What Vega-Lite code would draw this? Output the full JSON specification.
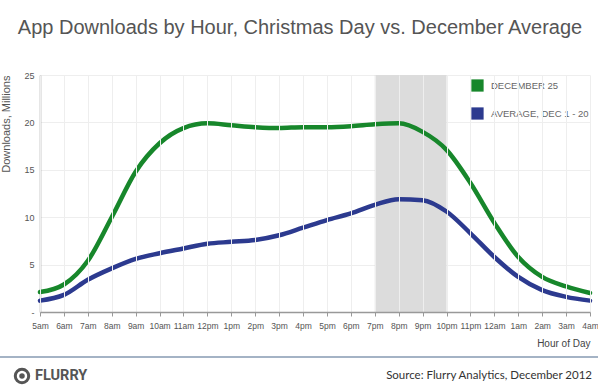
{
  "$schema": "https://vega.github.io/schema/vega-lite/v6.json",
  "width": 550,
  "height": 237,
  "autosize": {"type": "none"},
  "padding": {"left": 40, "top": 75, "right": 8, "bottom": 78},
  "background": "white",
  "title": {
    "text": "App Downloads by Hour, Christmas Day vs. December Average",
    "font": "Liberation Sans",
    "fontSize": 20,
    "fontWeight": "normal",
    "color": "#555555",
    "anchor": "middle",
    "dx": -15,
    "offset": 33
  },
  "config": {
    "view": {"stroke": null},
    "font": "Liberation Sans"
  },
  "datasets": {
    "series": [
      {"time": "5am", "series": "DECEMBER 25", "value": 2.1},
      {"time": "6am", "series": "DECEMBER 25", "value": 2.9},
      {"time": "7am", "series": "DECEMBER 25", "value": 5.4},
      {"time": "8am", "series": "DECEMBER 25", "value": 10.0},
      {"time": "9am", "series": "DECEMBER 25", "value": 14.8},
      {"time": "10am", "series": "DECEMBER 25", "value": 17.8},
      {"time": "11am", "series": "DECEMBER 25", "value": 19.4},
      {"time": "12pm", "series": "DECEMBER 25", "value": 19.9},
      {"time": "1pm", "series": "DECEMBER 25", "value": 19.7},
      {"time": "2pm", "series": "DECEMBER 25", "value": 19.5},
      {"time": "3pm", "series": "DECEMBER 25", "value": 19.4},
      {"time": "4pm", "series": "DECEMBER 25", "value": 19.5},
      {"time": "5pm", "series": "DECEMBER 25", "value": 19.5},
      {"time": "6pm", "series": "DECEMBER 25", "value": 19.6},
      {"time": "7pm", "series": "DECEMBER 25", "value": 19.8},
      {"time": "8pm", "series": "DECEMBER 25", "value": 19.9},
      {"time": "9pm", "series": "DECEMBER 25", "value": 19.0},
      {"time": "10pm", "series": "DECEMBER 25", "value": 17.1},
      {"time": "11pm", "series": "DECEMBER 25", "value": 13.6},
      {"time": "12am", "series": "DECEMBER 25", "value": 9.4},
      {"time": "1am", "series": "DECEMBER 25", "value": 5.8},
      {"time": "2am", "series": "DECEMBER 25", "value": 3.7},
      {"time": "3am", "series": "DECEMBER 25", "value": 2.7},
      {"time": "4am", "series": "DECEMBER 25", "value": 2.0},
      {"time": "5am", "series": "AVERAGE, DEC 1 - 20", "value": 1.2},
      {"time": "6am", "series": "AVERAGE, DEC 1 - 20", "value": 1.8},
      {"time": "7am", "series": "AVERAGE, DEC 1 - 20", "value": 3.4},
      {"time": "8am", "series": "AVERAGE, DEC 1 - 20", "value": 4.6},
      {"time": "9am", "series": "AVERAGE, DEC 1 - 20", "value": 5.6},
      {"time": "10am", "series": "AVERAGE, DEC 1 - 20", "value": 6.2},
      {"time": "11am", "series": "AVERAGE, DEC 1 - 20", "value": 6.7},
      {"time": "12pm", "series": "AVERAGE, DEC 1 - 20", "value": 7.2},
      {"time": "1pm", "series": "AVERAGE, DEC 1 - 20", "value": 7.4},
      {"time": "2pm", "series": "AVERAGE, DEC 1 - 20", "value": 7.6},
      {"time": "3pm", "series": "AVERAGE, DEC 1 - 20", "value": 8.1},
      {"time": "4pm", "series": "AVERAGE, DEC 1 - 20", "value": 8.9},
      {"time": "5pm", "series": "AVERAGE, DEC 1 - 20", "value": 9.7},
      {"time": "6pm", "series": "AVERAGE, DEC 1 - 20", "value": 10.4},
      {"time": "7pm", "series": "AVERAGE, DEC 1 - 20", "value": 11.3},
      {"time": "8pm", "series": "AVERAGE, DEC 1 - 20", "value": 11.9},
      {"time": "9pm", "series": "AVERAGE, DEC 1 - 20", "value": 11.8},
      {"time": "10pm", "series": "AVERAGE, DEC 1 - 20", "value": 10.6},
      {"time": "11pm", "series": "AVERAGE, DEC 1 - 20", "value": 8.3},
      {"time": "12am", "series": "AVERAGE, DEC 1 - 20", "value": 5.8},
      {"time": "1am", "series": "AVERAGE, DEC 1 - 20", "value": 3.7},
      {"time": "2am", "series": "AVERAGE, DEC 1 - 20", "value": 2.3},
      {"time": "3am", "series": "AVERAGE, DEC 1 - 20", "value": 1.6},
      {"time": "4am", "series": "AVERAGE, DEC 1 - 20", "value": 1.2}
    ]
  },
  "layer": [
    {
      "data": {"values": [{"start": "7pm", "end": "10pm"}]},
      "mark": {"type": "rect", "color": "#dcdcdc"},
      "encoding": {
        "x": {
          "field": "start",
          "type": "ordinal",
          "scale": {
            "type": "point",
            "padding": 0,
            "domain": ["5am","6am","7am","8am","9am","10am","11am","12pm","1pm","2pm","3pm","4pm","5pm","6pm","7pm","8pm","9pm","10pm","11pm","12am","1am","2am","3am","4am"]
          },
          "axis": {
            "title": "Hour of Day",
            "titleAnchor": "end",
            "titleFontSize": 10,
            "titleFontWeight": "normal",
            "titleColor": "#444444",
            "titlePadding": 9,
            "labelAngle": 0,
            "labelFontSize": 8.5,
            "labelColor": "#555555",
            "labelPadding": 5,
            "domainColor": "#999999",
            "domainWidth": 1.5,
            "tickColor": "#999999",
            "tickSize": 4,
            "grid": true,
            "gridColor": "#eeeeee",
            "gridWidth": 1
          }
        },
        "x2": {"field": "end"},
        "y": {"datum": 0, "type": "quantitative"},
        "y2": {"datum": 25}
      }
    },
    {
      "data": {"name": "series"},
      "mark": {"type": "line", "interpolate": "monotone", "strokeWidth": 4.5, "strokeCap": "round"},
      "encoding": {
        "x": {"field": "time", "type": "ordinal"},
        "y": {
          "field": "value",
          "type": "quantitative",
          "scale": {"domain": [0, 25], "nice": false},
          "axis": {
            "values": [0, 5, 10, 15, 20, 25],
            "labelExpr": "datum.value == 0 ? '-' : datum.label",
            "title": "Downloads, Millions",
            "titleAnchor": "end",
            "titleFontSize": 11,
            "titleFontWeight": "normal",
            "titleColor": "#555555",
            "titlePadding": 12,
            "labelFontSize": 9,
            "labelColor": "#555555",
            "labelPadding": 6,
            "domainColor": "#999999",
            "domainWidth": 1.5,
            "ticks": false,
            "grid": true,
            "gridColor": "#eeeeee",
            "gridWidth": 1
          }
        },
        "color": {
          "field": "series",
          "type": "nominal",
          "scale": {
            "domain": ["DECEMBER 25", "AVERAGE, DEC 1 - 20"],
            "range": ["#17872b", "#2c3a8f"]
          },
          "legend": {
            "title": null,
            "orient": "none",
            "legendX": 431,
            "legendY": 4,
            "symbolType": "square",
            "symbolSize": 150,
            "symbolStrokeWidth": 0,
            "symbolOpacity": 1,
            "labelFontSize": 9.5,
            "labelColor": "#666666",
            "labelOffset": 7,
            "rowPadding": 15,
            "encode": {
              "symbols": {
                "update": {
                  "fill": {"scale": "color", "field": "value"},
                  "stroke": {"value": "transparent"}
                }
              }
            }
          }
        }
      }
    },
    {
      "data": {"values": [{"line": "separator"}]},
      "mark": {"type": "rule", "color": "#9aabbf", "strokeWidth": 2, "opacity": 0.9},
      "encoding": {
        "x": {"value": -40},
        "x2": {"value": 558},
        "y": {"value": 282}
      }
    },
    {
      "data": {"values": [{"text": "Source: Flurry Analytics, December 2012"}]},
      "mark": {"type": "text", "align": "right", "baseline": "middle", "font": "Lato", "fontSize": 11.5, "color": "#333333"},
      "encoding": {
        "x": {"value": 552},
        "y": {"value": 301},
        "text": {"field": "text"}
      }
    },
    {
      "data": {"values": [{"text": "FLURRY"}]},
      "mark": {"type": "text", "align": "left", "baseline": "middle", "font": "Roboto", "fontWeight": "bold", "fontSize": 14.5, "color": "#555555"},
      "encoding": {
        "x": {"value": -5},
        "y": {"value": 301},
        "text": {"field": "text"}
      }
    },
    {
      "data": {"values": [{"logo": "ring"}]},
      "mark": {"type": "point", "shape": "circle", "filled": false, "size": 180, "strokeWidth": 3, "color": "#555555", "opacity": 1},
      "encoding": {
        "x": {"value": -18},
        "y": {"value": 301}
      }
    },
    {
      "data": {"values": [{"logo": "dot"}]},
      "mark": {"type": "point", "shape": "circle", "filled": true, "size": 30, "color": "#555555", "opacity": 1},
      "encoding": {
        "x": {"value": -18},
        "y": {"value": 301}
      }
    }
  ]
}
